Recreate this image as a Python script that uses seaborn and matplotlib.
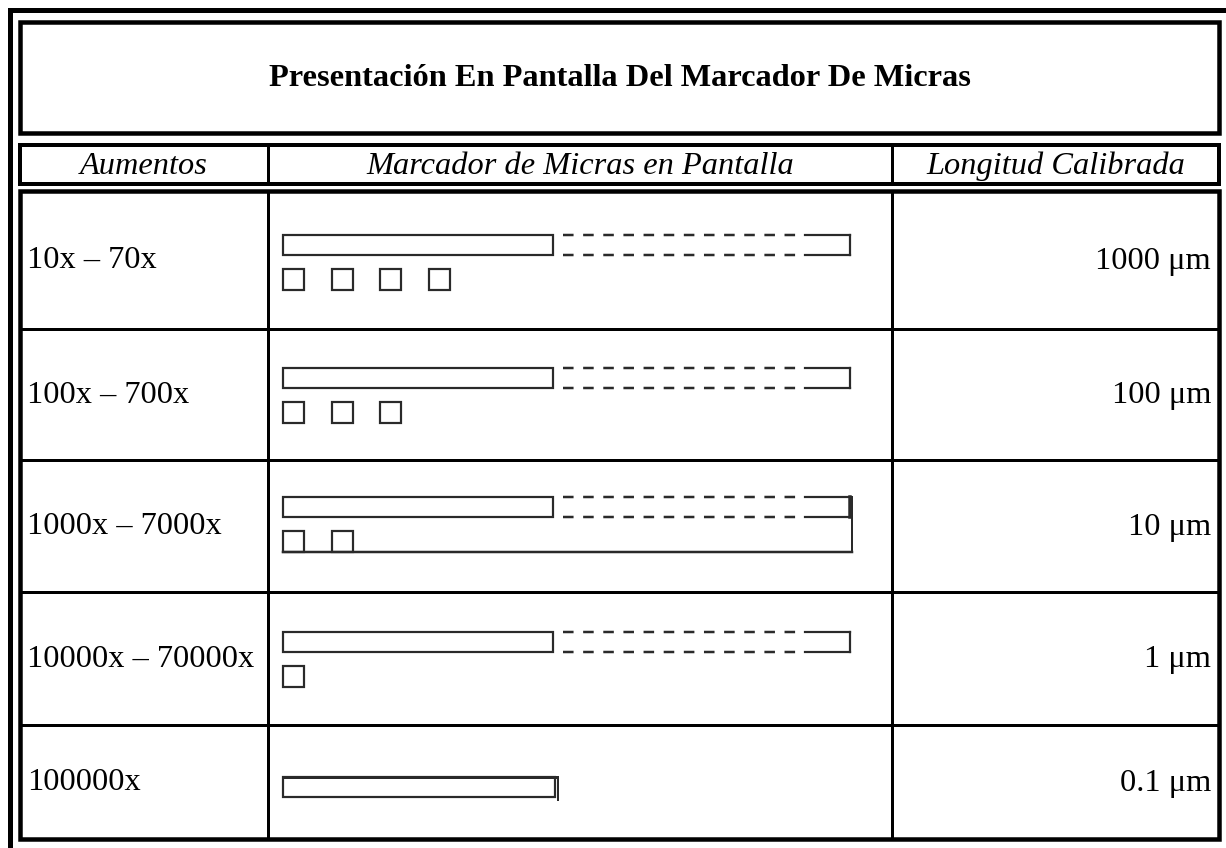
import matplotlib
matplotlib.use("Agg")
import matplotlib.pyplot as plt
import seaborn as sns
from matplotlib.patches import Rectangle

# ---------------- data ----------------
title = "Presentación En Pantalla Del Marcador De Micras"
headers = ["Aumentos", "Marcador de Micras en Pantalla", "Longitud Calibrada"]
magnifications = ["10x – 70x", "100x – 700x", "1000x – 7000x", "10000x – 70000x", "100000x"]
lengths = ["1000 μm", "100 μm", "10 μm", "1 μm", "0.1 μm"]
square_counts = [4, 3, 2, 1, 0]

# ---------------- style ----------------
sns.set_theme(style="white")
plt.rcParams['font.family'] = ['Liberation Serif', 'DejaVu Serif']
plt.rcParams['lines.scale_dashes'] = False
plt.rcParams['lines.solid_capstyle'] = 'projecting'

W, H = 1226, 848
fig = plt.figure(figsize=(W / 100, H / 100), dpi=100)
ax = fig.add_axes([0, 0, 1, 1])
ax.set_xlim(0, W)
ax.set_ylim(H, 0)
ax.axis('off')
sns.despine(ax=ax, left=True, bottom=True)

PX = 0.72  # points per pixel at 100 dpi
BLACK = '#000000'
MARK = '#2a2a2a'
FS = 23.3


def hline(x0, x1, y, w, color=BLACK, **kw):
    ax.plot([x0, x1], [y, y], color=color, lw=w * PX, **kw)


def vline(x, y0, y1, w, color=BLACK, **kw):
    ax.plot([x, x], [y0, y1], color=color, lw=w * PX, **kw)


def box(x0, y0, x1, y1, w, color=BLACK):
    ax.add_patch(Rectangle((x0, y0), x1 - x0, y1 - y0, fill=False,
                           edgecolor=color, lw=w * PX, joinstyle='miter'))


# outer frame (cropped on right/bottom)
hline(9.5, W + 10, 9.5, 5)
vline(9.5, 9.5, H + 10, 5)

# title box
L, R = 20, 1219
box(L, 22, R, 133, 4.5)
ax.text((L + R) / 2, 79, title, ha='center', va='center', fontsize=FS,
        fontweight='bold', color=BLACK)

# header row
col_x = [268, 892]
box(L, 145, R, 184, 4)
for cx in col_x:
    vline(cx, 145, 184, 3)
header_centers = [(L + col_x[0]) / 2, (col_x[0] + col_x[1]) / 2, (col_x[1] + R) / 2]
for hx, htxt in zip(header_centers, headers):
    ax.text(hx, 166, htxt, ha='center', va='center', fontsize=FS,
            fontstyle='italic', color=BLACK)

# data table
row_edges = [191, 329, 460, 592, 725, 839]
box(L, row_edges[0], R, row_edges[-1], 4.5)
for ry in row_edges[1:-1]:
    hline(L, R, ry, 3)
for cx in col_x:
    vline(cx, row_edges[0], row_edges[-1], 3)

bar_tops = [235, 368, 497, 632, 777]
BX0, BX1, BH = 283, 553, 20
DX0, DX1, EX = 563, 805, 850
SQ, SQGAP = 21, 48.5

for i, (mag, ln, nsq) in enumerate(zip(magnifications, lengths, square_counts)):
    y0, y1 = row_edges[i], row_edges[i + 1]
    yc = (y0 + y1) / 2 + 1
    ax.text(27, yc, mag, ha='left', va='center', fontsize=FS, color=BLACK)
    ax.text(1211, yc, ln, ha='right', va='center', fontsize=FS, color=BLACK)

    bt = bar_tops[i]
    bb = bt + BH
    if i < 4:
        box(BX0, bt, BX1, bb, 2.2, MARK)
        for yy in (bt, bb):
            ax.plot([DX0, DX1 - 6], [yy, yy], color=MARK, lw=2.5 * PX,
                    linestyle=(0, (7.6, 6.9)), solid_capstyle='butt',
                    dash_capstyle='butt')
            hline(DX1, EX, yy, 2.2, MARK)
        vline(EX, bt, bb, 2.2 if i != 2 else 3.5, MARK)
        for k in range(nsq):
            box(BX0 + k * SQGAP, bb + 14, BX0 + k * SQGAP + SQ, bb + 14 + SQ, 2.2, MARK)
        if i == 2:
            ext = EX + 2
            vline(ext, bt, bb + 14 + SQ, 2, MARK)
            hline(BX0, ext, bb + 14 + SQ, 2.5, MARK)
    else:
        box(BX0, bt, BX1 + 2, bb, 2.2, MARK)
        hline(BX0, BX1 + 2, bt, 3, MARK)
        vline(BX1 + 5, bt, bb + 3, 2, MARK)

fig.savefig("out.png", dpi=100, facecolor='white')
